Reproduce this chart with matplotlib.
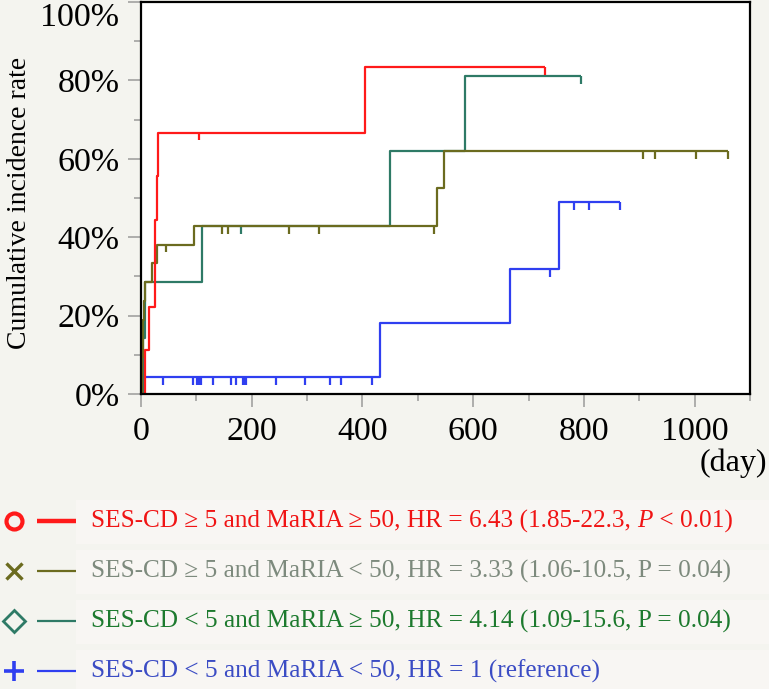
import numpy as np
import matplotlib
matplotlib.use("Agg")
import matplotlib.pyplot as plt
from matplotlib.patches import Rectangle
from matplotlib.lines import Line2D

plt.rcParams['font.family'] = ['Liberation Serif', 'DejaVu Serif']

# step curves (day, cumulative incidence)
red_t = [0, 8, 15, 26, 28, 31, 405, 729]
red_s = [0, 0.111, 0.222, 0.444, 0.556, 0.667, 0.833, 0.833]
red_cens = [105, 729]

olive_t = [0, 1, 2, 3, 4, 5, 7, 19, 28, 95, 534, 548, 1061]
olive_s = [0, 0.048, 0.095, 0.143, 0.190, 0.238, 0.286, 0.333, 0.381, 0.429, 0.525, 0.620, 0.620]
olive_cens = [45, 147, 158, 267, 321, 529, 907, 929, 1003, 1061]

green_t = [0, 4, 7, 111, 449, 585, 794]
green_s = [0, 0.143, 0.286, 0.429, 0.619, 0.810, 0.810]
green_cens = [180, 794]

blue_t = [0, 5, 432, 667, 755, 866]
blue_s = [0, 0.044, 0.182, 0.319, 0.489, 0.489]
blue_cens = [40, 94, 102, 105, 108, 130, 163, 172, 184, 187, 190, 243, 297,
             341, 362, 417, 739, 783, 809, 866]

labels = [
    'SES-CD ≥ 5 and MaRIA ≥ 50, HR = 6.43 (1.85-22.3, ',
    'SES-CD ≥ 5 and MaRIA < 50, HR = 3.33 (1.06-10.5, P = 0.04)',
    'SES-CD < 5 and MaRIA ≥ 50, HR = 4.14 (1.09-15.6, P = 0.04)',
    'SES-CD < 5 and MaRIA < 50, HR = 1 (reference)',
]

line_cols = ['#ff1a1a', '#6b6b1f', '#2e7a66', '#2f3ff0']
text_cols = ['#f01414', '#7d8a7d', '#1d7a2e', '#3b4cc4']
bg = '#f4f4ef'

fig = plt.figure(figsize=(7.69, 6.89), dpi=100, facecolor=bg)
W, H = 769, 689
ax = fig.add_axes([141 / W, 1 - 394 / H, (750 - 141) / W, (394 - 2) / H])
ax.set_facecolor('white')

def cens_levels(t, s, c):
    idx = np.searchsorted(t, c, side='right') - 1
    return np.array(s)[idx]

series = [(blue_t, blue_s, blue_cens, line_cols[3]),
          (green_t, green_s, green_cens, line_cols[2]),
          (olive_t, olive_s, olive_cens, line_cols[1]),
          (red_t, red_s, red_cens, line_cols[0])]
for t, s, c, col in series:
    ax.step(t, s, where='post', color=col, lw=1.6, solid_capstyle='butt')
    lv = cens_levels(t, s, c)
    ax.vlines(c, lv - 0.02, lv, color=col, lw=1.6)

ax.set_xlim(0, 1100)
ax.set_ylim(0, 1)
ax.set_xticks([0, 200, 400, 600, 800, 1000])
ax.set_xticks(np.arange(100, 1101, 200), minor=True)
ax.set_yticks(np.arange(0, 1.01, 0.2))
ax.set_yticks(np.arange(0.1, 1, 0.2), minor=True)
ax.set_yticklabels(['0%', '20%', '40%', '60%', '80%', '100%'])
ax.tick_params(which='major', length=9.5, width=1.1, color='#9a9a9a', labelsize=24.5, pad=6)
ax.tick_params(which='minor', length=5, width=1.1, color='#9a9a9a')
ax.tick_params(axis='x', pad=7)
ax.get_yticklabels()[-1].set_va('top')
for sp in ax.spines.values():
    sp.set_linewidth(1.6)
    sp.set_color('black')

fig.text(20 / W, 1 - 203 / H, 'Cumulative incidence rate', rotation=90,
         ha='center', va='center', fontsize=20)
fig.text(767 / W, 1 - 463 / H, '(day)', ha='right', va='center', fontsize=23)

# legend rows
rows = [521, 571, 621, 671]
markers = ['o', 'x', 'D', '+']
for i, y in enumerate(rows):
    yf = 1 - y / H
    fig.patches.append(Rectangle((76 / W, 1 - (y + 23) / H), (W - 76) / W, 44 / H,
                                 transform=fig.transFigure, facecolor='#f8f6f3',
                                 edgecolor='none', zorder=0))
    lw = 3.2 if i == 0 else 1.6
    fig.add_artist(Line2D([37 / W, 76 / W], [yf, yf], color=line_cols[i], lw=lw,
                          solid_capstyle='butt'))
    ms = {'o': 11.5, 'x': 11, 'D': 11.5, '+': 15}[markers[i]]
    mew = {'o': 3, 'x': 2.4, 'D': 2, '+': 2.6}[markers[i]]
    fig.add_artist(Line2D([13.5 / W], [yf], marker=markers[i], ms=ms, mew=mew,
                          mfc='none', mec=line_cols[i], color=line_cols[i], ls='none'))

fs = 18.2
t1 = fig.text(91 / W, 1 - rows[0] / H, labels[0], color=text_cols[0], fontsize=fs,
              ha='left', va='center')
fig.canvas.draw()
bb = t1.get_window_extent()
t2 = fig.text(bb.x1 / W, 1 - rows[0] / H, 'P', color=text_cols[0], fontsize=fs,
              style='italic', ha='left', va='center')
fig.canvas.draw()
bb2 = t2.get_window_extent()
fig.text(bb2.x1 / W, 1 - rows[0] / H, ' < 0.01)', color=text_cols[0], fontsize=fs,
         ha='left', va='center')
for i in range(1, 4):
    fig.text(91 / W, 1 - rows[i] / H, labels[i], color=text_cols[i], fontsize=fs,
             ha='left', va='center')

fig.savefig('out.png', dpi=100, facecolor=bg)
